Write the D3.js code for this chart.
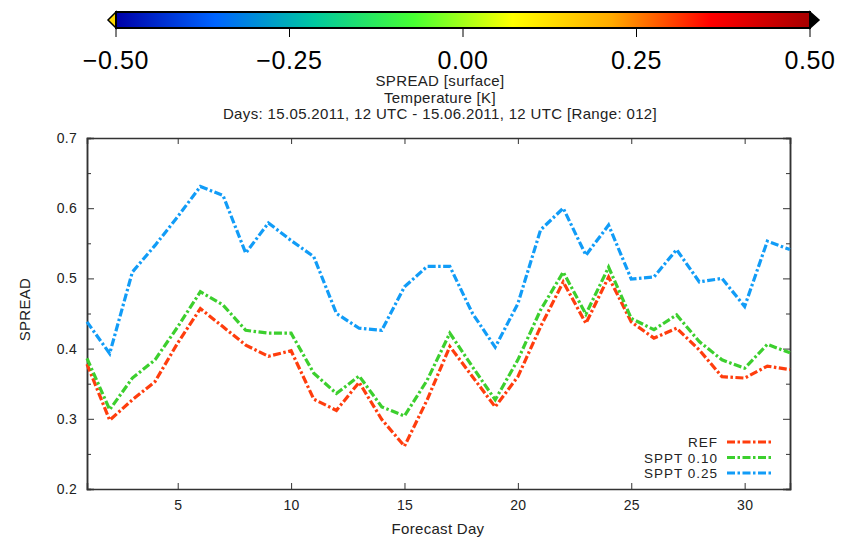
<!DOCTYPE html>
<html>
<head>
<meta charset="utf-8">
<script src="https://cdn.jsdelivr.net/npm/d3@7"></script>
<style>
  body { margin: 0; background: #fff; }
  svg { display: block; font-family: "Liberation Sans", Arial, sans-serif; }
</style>
</head>
<body>
<div id="vis"></div>
<script>
// forecast days 1..32
const days = d3.range(1, 33);

const refValues = [0.378, 0.298, 0.327, 0.353, 0.408, 0.457, 0.431, 0.405, 0.389, 0.397,
  0.328, 0.312, 0.352, 0.299, 0.261, 0.327, 0.403, 0.360, 0.317, 0.360,
  0.431, 0.495, 0.436, 0.502, 0.438, 0.415, 0.429, 0.398, 0.360, 0.358,
  0.375, 0.370];

const sppt010Values = [0.386, 0.313, 0.358, 0.384, 0.431, 0.481, 0.462, 0.426, 0.422, 0.422,
  0.365, 0.336, 0.361, 0.317, 0.304, 0.355, 0.422, 0.374, 0.327, 0.384,
  0.455, 0.509, 0.449, 0.516, 0.443, 0.427, 0.448, 0.410, 0.384, 0.372,
  0.406, 0.394];

const sppt025Values = [0.438, 0.393, 0.509, 0.547, 0.588, 0.631, 0.618, 0.536, 0.579, 0.554,
  0.531, 0.450, 0.429, 0.426, 0.488, 0.517, 0.517, 0.450, 0.402, 0.464,
  0.569, 0.600, 0.533, 0.576, 0.499, 0.502, 0.541, 0.495, 0.500, 0.460,
  0.553, 0.541];

const seriesNames = ["REF", "SPPT 0.10", "SPPT 0.25"];
const seriesColors = ["#ff3d0d", "#3ccf2e", "#119cf7"];

const xTicks = [5, 10, 15, 20, 25, 30];
const yTicks = [0.2, 0.3, 0.4, 0.5, 0.6, 0.7];
const yMinorTicks = [0.25, 0.35, 0.45, 0.55, 0.65];

const cbTicks = [-0.5, -0.25, 0, 0.25, 0.5];
const cbColors = ["#0000a8", "#0064ff", "#00c8a0", "#46ff32", "#ffff00", "#ffaa00", "#ff0000", "#a80000"];

const titleLines = ["SPREAD [surface]", "Temperature [K]",
  "Days: 15.05.2011, 12 UTC - 15.06.2011, 12 UTC [Range: 012]"];

const width = 846, height = 538;
const svg = d3.select("#vis").append("svg")
    .attr("width", width)
    .attr("height", height);

// colorbar
const cb = { left: 116, right: 810, top: 12, h: 16 };
const cbScale = d3.scaleLinear().domain([-0.5, 0.5]).range([cb.left, cb.right]);

const defs = svg.append("defs");
const grad = defs.append("linearGradient").attr("id", "cbgrad")
    .attr("x1", "0%").attr("x2", "100%").attr("y1", "0%").attr("y2", "0%");
cbColors.forEach((c, i) => {
    grad.append("stop")
        .attr("offset", (i / (cbColors.length - 1) * 100) + "%")
        .attr("stop-color", c);
});

svg.append("path")
    .attr("d", `M${cb.left},${cb.top} L${cb.left - 8},${cb.top + cb.h / 2} L${cb.left},${cb.top + cb.h} Z`)
    .attr("fill", "#ffd800")
    .attr("stroke", "#000")
    .attr("stroke-width", 1.5);
svg.append("path")
    .attr("d", `M${cb.right},${cb.top} L${cb.right + 9},${cb.top + cb.h / 2} L${cb.right},${cb.top + cb.h} Z`)
    .attr("fill", "#000")
    .attr("stroke", "#000")
    .attr("stroke-width", 1.5);
svg.append("rect")
    .attr("x", cb.left).attr("y", cb.top)
    .attr("width", cb.right - cb.left).attr("height", cb.h)
    .attr("fill", "url(#cbgrad)")
    .attr("stroke", "#000")
    .attr("stroke-width", 2);

const cbAxis = svg.append("g");
cbAxis.selectAll("line").data(cbTicks).enter().append("line")
    .attr("x1", d => cbScale(d)).attr("x2", d => cbScale(d))
    .attr("y1", cb.top + cb.h).attr("y2", cb.top + cb.h + 9)
    .attr("stroke", "#000").attr("stroke-width", 1);
cbAxis.selectAll("text").data(cbTicks).enter().append("text")
    .attr("x", d => cbScale(d))
    .attr("y", 69)
    .attr("text-anchor", "middle")
    .style("font-size", "25px")
    .style("letter-spacing", "0.6px")
    .text(d => d3.format(".2f")(d).replace("-", "\u2212"));

// titles
svg.selectAll("text.title").data(titleLines).enter().append("text")
    .attr("class", "title")
    .attr("x", 440)
    .attr("y", (d, i) => 86 + i * 16.5)
    .attr("text-anchor", "middle")
    .style("font-size", "15px")
    .style("letter-spacing", "0.35px")
    .style("fill", "#222")
    .text(d => d);

// plot area
const plot = { left: 87, right: 790, top: 138, bottom: 489 };
const x = d3.scaleLinear().domain([1, 32]).range([plot.left, plot.right]);
const y = d3.scaleLinear().domain([0.2, 0.7]).range([plot.bottom, plot.top]);

const axisColor = "#333";
const g = svg.append("g");

g.append("g").attr("transform", `translate(0,${plot.bottom})`)
    .call(d3.axisBottom(x).tickValues(xTicks).tickSize(-6).tickPadding(11).tickFormat(d3.format("d")));
g.append("g").attr("transform", `translate(0,${plot.top})`)
    .call(d3.axisTop(x).tickValues(xTicks).tickSize(-6).tickFormat(""));
g.append("g").attr("transform", `translate(${plot.left},0)`)
    .call(d3.axisLeft(y).tickValues(yTicks).tickSize(-7).tickPadding(10).tickFormat(d3.format(".1f")));
g.append("g").attr("transform", `translate(${plot.right},0)`)
    .call(d3.axisRight(y).tickValues(yTicks).tickSize(-7).tickFormat(""));
g.append("g").attr("transform", `translate(${plot.left},0)`)
    .call(d3.axisLeft(y).tickValues(yMinorTicks).tickSize(-4).tickFormat(""));
g.append("g").attr("transform", `translate(${plot.right},0)`)
    .call(d3.axisRight(y).tickValues(yMinorTicks).tickSize(-4).tickFormat(""));

g.selectAll(".domain").attr("stroke", axisColor).attr("stroke-width", 1.5);
g.selectAll(".tick line").attr("stroke", axisColor);
g.selectAll(".tick text").style("font-size", "14px").style("letter-spacing", "0.3px")
    .style("font-family", "Liberation Sans, Arial, sans-serif").attr("fill", "#222");

// axis labels
svg.append("text")
    .attr("x", 438).attr("y", 534)
    .attr("text-anchor", "middle")
    .style("font-size", "15px").style("letter-spacing", "0.3px").style("fill", "#222")
    .text("Forecast Day");
svg.append("text")
    .attr("transform", `translate(30,${(plot.top + plot.bottom) / 2 - 4}) rotate(-90)`)
    .attr("text-anchor", "middle")
    .style("font-size", "15px").style("letter-spacing", "0.3px").style("fill", "#222")
    .text("SPREAD");

// lines
const seriesData = [refValues, sppt010Values, sppt025Values];
const line = d3.line()
    .x((d, i) => x(days[i]))
    .y(d => y(d));

svg.selectAll("path.series").data(seriesData).enter().append("path")
    .attr("class", "series")
    .attr("d", line)
    .attr("fill", "none")
    .attr("stroke", (d, i) => seriesColors[i])
    .attr("stroke-width", 3.2)
    .attr("stroke-dasharray", "8,2.5,2.5,2.5")
    .attr("stroke-linejoin", "miter");

// legend
const legend = svg.append("g");
seriesNames.forEach((name, i) => {
    const ly = 442 + i * 15.5;
    legend.append("text")
        .attr("x", 718).attr("y", ly + 5)
        .attr("text-anchor", "end")
        .style("font-size", "13.5px").style("letter-spacing", "1px").style("fill", "#222")
        .text(name);
    legend.append("line")
        .attr("x1", 727).attr("x2", 771)
        .attr("y1", ly).attr("y2", ly)
        .attr("stroke", seriesColors[i])
        .attr("stroke-width", 3.2)
        .attr("stroke-dasharray", "8,2.5,2.5,2.5");
});
</script>
</body>
</html>
